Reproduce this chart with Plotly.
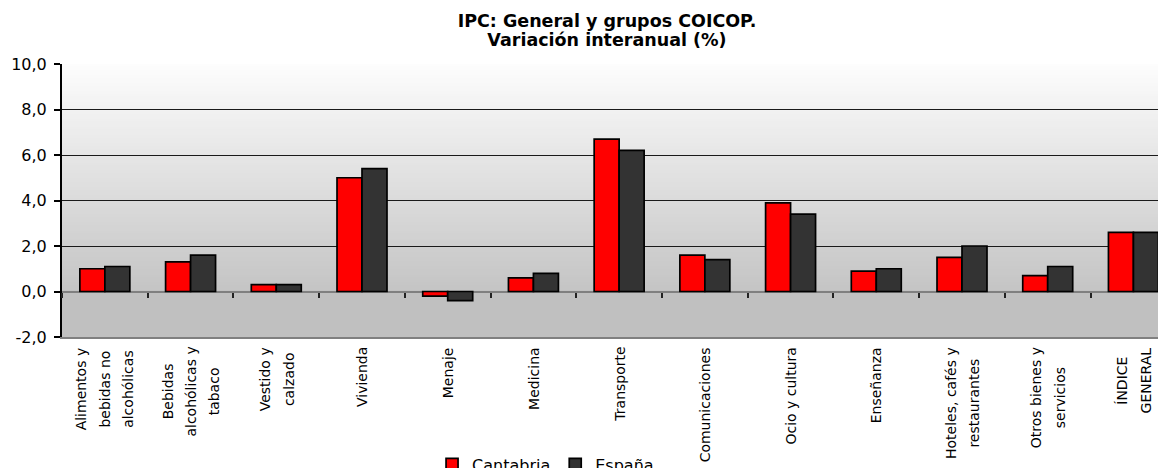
import plotly.graph_objects as go

categories = [
    "Alimentos y<br>bebidas no<br>alcohólicas",
    "Bebidas<br>alcohólicas y<br>tabaco",
    "Vestido y<br>calzado",
    "Vivienda",
    "Menaje",
    "Medicina",
    "Transporte",
    "Comunicaciones",
    "Ocio y cultura",
    "Enseñanza",
    "Hoteles, cafés y<br>restaurantes",
    "Otros bienes y<br>servicios",
    "ÍNDICE<br>GENERAL",
]
cantabria = [1.0, 1.3, 0.3, 5.0, -0.2, 0.6, 6.7, 1.6, 3.9, 0.9, 1.5, 0.7, 2.6]
espana = [1.1, 1.6, 0.3, 5.4, -0.4, 0.8, 6.2, 1.4, 3.4, 1.0, 2.0, 1.1, 2.6]
series_names = ["Cantabria", "España"]
y_ticks = [-2, 0, 2, 4, 6, 8, 10]
y_ticktext = ["-2,0", "0,0", "2,0", "4,0", "6,0", "8,0", "10,0"]
y_range = [-2, 10]

FONT = "DejaVu Sans"
W, H = 1166, 468

fig = go.Figure()
fig.add_trace(go.Bar(x=categories, y=cantabria, name=series_names[0],
                     marker=dict(color="#FF0000", line=dict(color="#000000", width=1.7))))
fig.add_trace(go.Bar(x=categories, y=espana, name=series_names[1],
                     marker=dict(color="#333333", line=dict(color="#000000", width=1.7))))
# invisible trace carrying the category-boundary tick axis drawn at zero
fig.add_trace(go.Scatter(x=categories, y=[None] * len(categories), xaxis="x2",
                         showlegend=False, hoverinfo="skip", mode="markers"))

# gradient background: overlapping rects (each extends to the bottom) to avoid seams
zero_frac = (0 - y_range[0]) / (y_range[1] - y_range[0])
n_bands = 100
shapes = []
for k in range(n_bands):
    y_top = 1 - k / n_bands
    mid = y_top - 0.5 / n_bands
    if mid >= zero_frac:
        f = (1 - mid) / (1 - zero_frac)
        v = round(253 - (253 - 196) * f)
    else:
        v = 192
    shapes.append(dict(type="rect", xref="paper", yref="paper", x0=0, x1=1,
                       y0=0, y1=y_top,
                       fillcolor=f"rgb({v},{v},{v})", line=dict(width=0), layer="below"))

annotations = []
for i, cat in enumerate(categories):
    text = "<br>".join(f"<span style='font-size:14px'>{ln}</span>" for ln in cat.split("<br>"))
    annotations.append(dict(x=i, xref="x", y=0, yref="paper", yanchor="top", xanchor="center",
                            yshift=-8, textangle=-90, align="center", showarrow=False,
                            text=text, font=dict(family=FONT, size=18, color="#000000")))

n = len(categories)
x_rng = [-0.5, n - 0.62]

title_lines = ["IPC: General y grupos COICOP.", "Variación interanual (%)"]
title_text = "<br>".join(f"<span style='font-size:17.5px'><b>{t}</b></span>" for t in title_lines)

fig.update_layout(
    width=W, height=H,
    margin=dict(l=54, r=8, t=56, b=139, autoexpand=False),
    paper_bgcolor="#FFFFFF", plot_bgcolor="#FFFFFF",
    separators=",.",
    font=dict(family=FONT, color="#000000"),
    title=dict(text=title_text,
               x=599 / W, xref="container", xanchor="center", y=1 - 19 / H, yref="container",
               yanchor="top", font=dict(family=FONT, size=14.6, color="#000000")),
    barmode="group", bargap=0.417, bargroupgap=0,
    xaxis=dict(type="category", range=x_rng, showline=True, linecolor="#808080", linewidth=2,
               showticklabels=False, ticks="", showgrid=False, zeroline=False),
    xaxis2=dict(type="category", overlaying="x", anchor="free", position=zero_frac, side="bottom",
                categoryorder="array", categoryarray=categories, range=x_rng,
                tickson="boundaries", ticks="outside", ticklen=5, tickwidth=1.5,
                tickcolor="#222222", showticklabels=False, showgrid=False, zeroline=False,
                showline=False),
    yaxis=dict(range=y_range, tickmode="array", tickvals=y_ticks, ticktext=y_ticktext,
               showgrid=True, gridcolor="#1a1a1a", gridwidth=1,
               zeroline=True, zerolinecolor="#808080", zerolinewidth=2,
               showline=True, linecolor="#000000", linewidth=2,
               ticks="outside", ticklen=6, tickwidth=1.5, tickcolor="#000000",
               ticklabelstandoff=4,
               tickfont=dict(family=FONT, size=16, color="#000000")),
    legend=dict(orientation="h", x=0.438, xanchor="center", y=-0.405, yanchor="top",
                font=dict(family=FONT, size=16, color="#000000"), bgcolor="rgba(0,0,0,0)"),
    shapes=shapes,
    annotations=annotations,
)

fig.write_html("out.html")
